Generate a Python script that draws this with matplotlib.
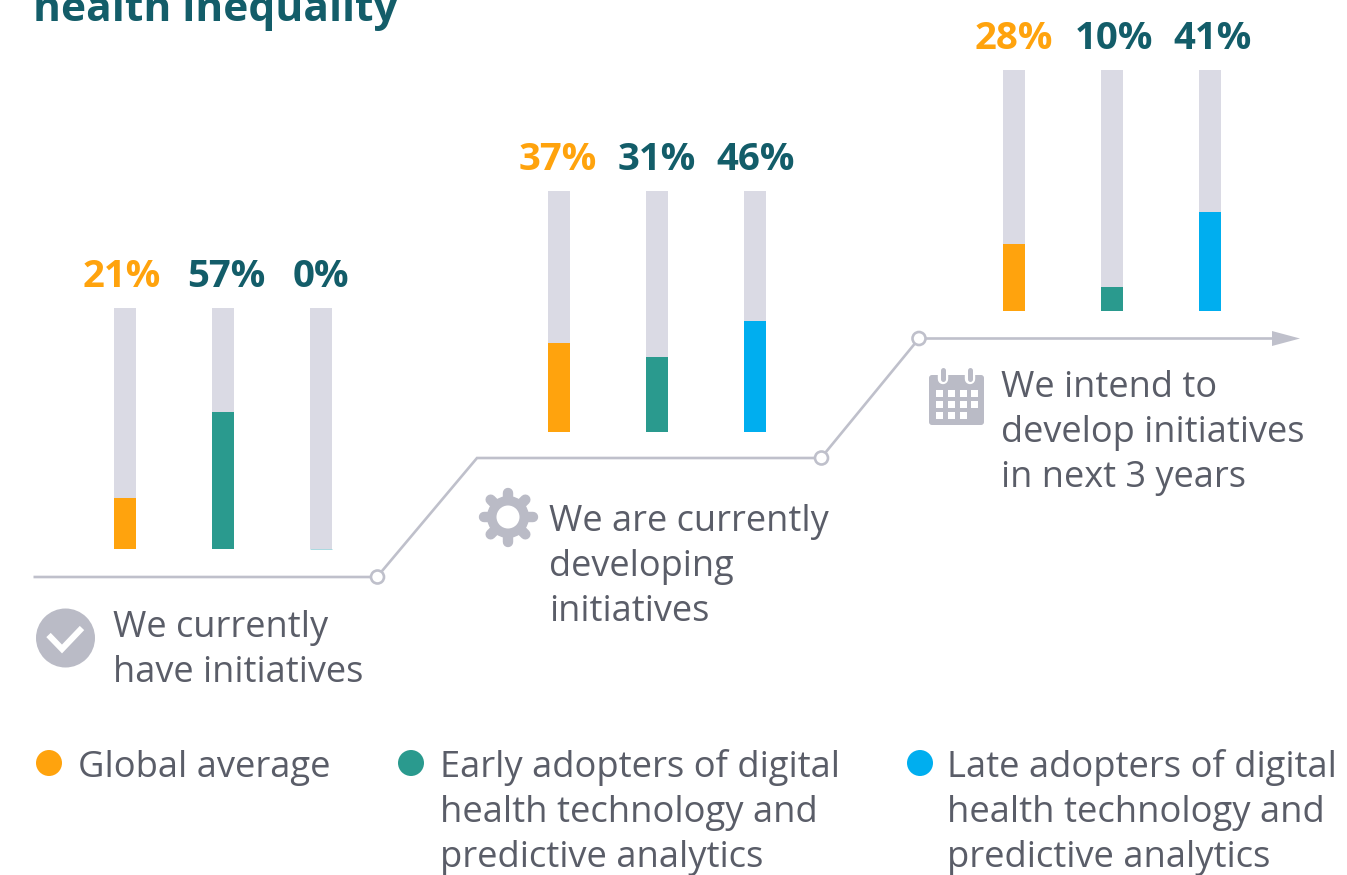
import matplotlib
matplotlib.use("Agg")
import matplotlib.pyplot as plt
from matplotlib.patches import Circle, FancyBboxPatch, Polygon, Rectangle
import numpy as np

plt.rcParams['font.family'] = ['Open Sans', 'DejaVu Sans']

# ---- data ----
series_names = ["Global average", "Early adopters", "Late adopters"]
have_now = [21, 57, 0]
developing = [37, 31, 46]
intend = [28, 10, 41]
stage_labels = [["We currently", "have initiatives"],
                ["We are currently", "developing", "initiatives"],
                ["We intend to", "develop initiatives", "in next 3 years"]]
legend_labels = [["Global average"],
                 ["Early adopters of digital", "health technology and", "predictive analytics"],
                 ["Late adopters of digital", "health technology and", "predictive analytics"]]
title_text = "health inequality"

# ---- style ----
W, H = 1347, 875
ORANGE, TEAL, BLUE = "#FFA30D", "#2A9A8E", "#00AEEF"
DARK = "#135D69"
GREY_TXT = "#5A5D68"
TRACK = "#DADAE4"
LINE = "#BFC0CB"
ICON = "#BABBC6"
bar_colors = [ORANGE, TEAL, BLUE]
label_colors = [ORANGE, DARK, DARK]
FS = 26.0
FS_LEGEND = 26.2
FS_VALUE = 27.6
FS_TITLE = 30.6

fig = plt.figure(figsize=(W / 100, H / 100), dpi=100, facecolor="white")
ov = fig.add_axes([0, 0, 1, 1])
ov.set_xlim(0, W)
ov.set_ylim(H, 0)
ov.axis("off")


def bar_panel(values, left_px, top_px, label_dx):
    """Three-bar panel: bars 22 px wide, 98 px pitch, 241 px tall."""
    ax_left = left_px + 11 - 49
    ax = fig.add_axes([ax_left / W, 1 - (top_px + 241) / H, 294 / W, 241 / H])
    ax.patch.set_alpha(0)
    ax.set_xlim(-0.5, 2.5)
    ax.set_ylim(0, 100)
    ax.axis("off")
    pos = np.arange(3)
    ax.bar(pos, [100] * 3, width=22 / 98, color=TRACK, linewidth=0)
    ax.bar(pos, values, width=22 / 98, color=bar_colors, linewidth=0)
    for i, v in enumerate(values):
        ax.annotate(f"{v}%", (i, 100), xytext=(label_dx[i] * 0.72, 15), textcoords="offset points",
                    ha="center", va="baseline", fontsize=FS_VALUE, fontweight="bold",
                    color=label_colors[i], annotation_clip=False)
        if v == 0:
            ax.hlines(0, i - 11 / 98, i + 11 / 98, color="#A9D8E0", lw=0.7, clip_on=False)


bar_panel(have_now, 114, 308, (-3, 3, -0.5))
bar_panel(developing, 548, 191, (-1, -0.5, 1))
bar_panel(intend, 1003, 70, (-0.5, 2, 2))

# stepped timeline
xs = [33.5, 377, 477, 821, 919, 1275]
ys = [577, 577, 458, 458, 338.5, 338.5]
ov.plot(xs, ys, color=LINE, lw=1.9, solid_joinstyle="miter", solid_capstyle="butt", zorder=2)
ov.add_patch(Polygon([(1272, 331), (1300, 338.5), (1272, 346)], closed=True, color=LINE, lw=0, zorder=2))
for cx, cy in [(377.5, 577), (821.5, 458), (919, 338.5)]:
    ov.add_patch(Circle((cx, cy), 6.5, facecolor="white", edgecolor=LINE, lw=1.9, zorder=3))

# check icon
ov.add_patch(Circle((65.5, 638), 29.5, color=ICON, lw=0))
ov.plot([48.5, 62, 82], [635, 649, 628], color="white", lw=4.4, solid_joinstyle="miter", solid_capstyle="butt")

# gear icon
gx, gy = 508, 517
for a in np.arange(8) * np.pi / 4:
    ov.plot([gx, gx + 24.5 * np.cos(a)], [gy, gy + 24.5 * np.sin(a)], color=ICON, lw=7.5,
            solid_capstyle="round", zorder=2)
ov.add_patch(Circle((gx, gy), 21, color=ICON, lw=0, zorder=2))
ov.add_patch(Circle((gx, gy), 11.5, color="white", lw=0, zorder=3))

# calendar icon
ov.add_patch(FancyBboxPatch((931, 377), 51, 46, boxstyle="round,pad=2,rounding_size=3", color=ICON, lw=0))
for rx in (943, 969.5):
    ov.plot([rx, rx], [370, 379], color="white", lw=7.5, solid_capstyle="round")
    ov.plot([rx, rx], [370, 379], color=ICON, lw=3.6, solid_capstyle="round")
for r, ry in enumerate((390, 401, 411.5)):
    for c, cx in enumerate((935.5, 947.5, 959.5, 971)):
        if r == 2 and c == 3:
            continue
        ov.add_patch(Rectangle((cx, ry), 7, 7, color="white", lw=0))


def write_lines(lines, x, first_baseline, size=FS, color=GREY_TXT):
    for i, s in enumerate(lines):
        ov.text(x, first_baseline + 45 * i, s, ha="left", va="baseline", fontsize=size, color=color)


write_lines(stage_labels[0], 113, 637)
write_lines(stage_labels[1], 549, 531)
write_lines(stage_labels[2], 1001, 397)

# legend
for lab, col, cx, tx in zip(legend_labels, bar_colors, (49, 411, 920), (78, 440, 947)):
    ov.add_patch(Circle((cx, 763), 13, color=col, lw=0))
    write_lines(lab, tx, 777, size=FS_LEGEND)

# clipped title
ov.text(33, 21, title_text, ha="left", va="baseline", fontsize=FS_TITLE, fontweight="bold", color=DARK)

fig.savefig("out.png", dpi=100, facecolor="white")
